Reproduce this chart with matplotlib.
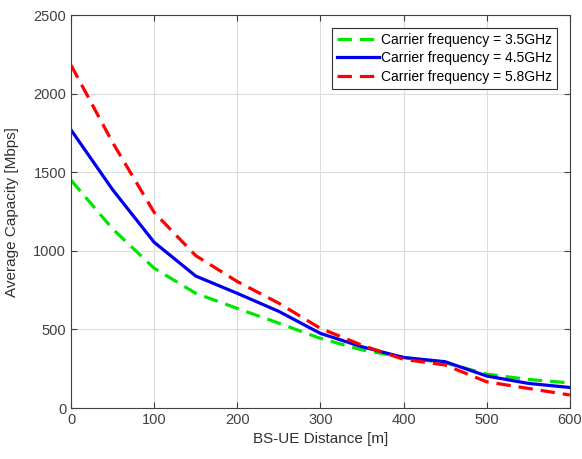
import numpy as np
import matplotlib
matplotlib.use('Agg')
import matplotlib.pyplot as plt

plt.rcParams['font.family'] = ['Liberation Sans', 'DejaVu Sans']

# distance from base station [m]
distance = [0, 50, 100, 150, 200, 250, 300, 350, 400, 450, 500, 550, 600]

# average capacity [Mbps] per carrier frequency
cap_35 = [1450, 1140, 890, 730, 634, 540, 443, 370, 322, 288, 216, 182, 160]
cap_45 = [1770, 1390, 1055, 840, 730, 615, 475, 390, 322, 295, 204, 157, 131]
cap_58 = [2182, 1690, 1245, 970, 805, 667, 507, 400, 310, 274, 167, 125, 83]

labels = ['Carrier frequency = 3.5GHz',
          'Carrier frequency = 4.5GHz',
          'Carrier frequency = 5.8GHz']

fig = plt.figure(figsize=(5.82, 4.59), dpi=100)
ax = fig.add_axes([0.122, 0.111, 0.857, 0.856])

ax.plot(distance, cap_35, color='#00e600', linestyle=(0, (4.5, 2.5)), linewidth=2.3, label=labels[0])
ax.plot(distance, cap_45, color='#0000ee', linestyle='-', linewidth=2.3, label=labels[1])
ax.plot(distance, cap_58, color='#ff0000', linestyle=(0, (4.5, 2.5)), linewidth=2.3, label=labels[2])

ax.set_xlim(0, 600)
ax.set_ylim(0, 2500)
ax.set_xticks(np.arange(0, 601, 100))
ax.set_yticks(np.arange(0, 2501, 500))

ax.grid(True, color='#dcdcdc', linewidth=0.8)
ax.set_axisbelow(True)
ax.tick_params(direction='in', top=True, right=True, labelsize=10.5,
               colors='#404040', length=4)
for s in ax.spines.values():
    s.set_color('#404040')
    s.set_linewidth(0.8)

ax.set_xlabel('BS-UE Distance [m]', fontsize=11, color='#303030')
ax.set_ylabel('Average Capacity [Mbps]', fontsize=11, color='#303030', labelpad=10)

leg = ax.legend(loc='upper right', fontsize=10, fancybox=False, framealpha=1,
                edgecolor='#303030', handlelength=3.0, borderaxespad=0.9,
                labelspacing=0.33, handletextpad=0.2, borderpad=0.35)
leg.get_frame().set_linewidth(0.8)

fig.savefig('out.png', dpi=100)
